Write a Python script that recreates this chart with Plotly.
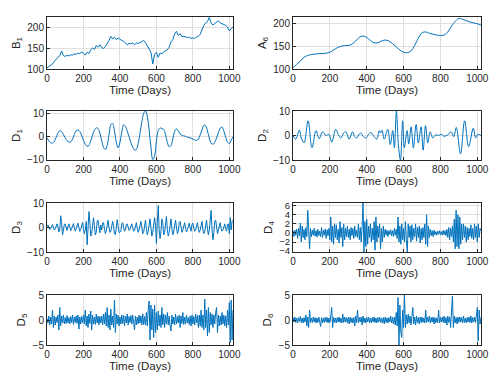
import plotly.graph_objects as go

# daily decomposition of the series
b1_days = list(range(0, 1021, 10))
b1 = [103, 106, 108, 112, 118, 122, 126, 132, 143, 132,
      130, 133, 131, 134, 133, 136, 135, 138, 136, 141,
      138, 133, 140, 137, 146, 150, 147, 156, 152, 158,
      151, 149, 153, 160, 168, 178, 172, 176, 170, 174,
      170, 168, 166, 163, 158, 161, 160, 162, 158, 162,
      161, 163, 166, 168, 163, 156, 147, 140, 112, 135,
      140, 128, 138, 136, 141, 143, 146, 152, 165, 170,
      184, 190, 180, 184, 177, 178, 176, 175, 176, 173,
      174, 173, 176, 178, 183, 195, 204, 210, 213, 223,
      210, 205, 208, 212, 215, 210, 208, 206, 204, 200,
      191, 196, 200]

a6_days = list(range(0, 1021, 20))
a6 = [103, 110, 118, 126, 130, 132, 133, 134, 134, 135,
      137, 142, 147, 150, 152, 152, 155, 162, 170, 173,
      170, 163, 158, 158, 162, 164, 162, 156, 149, 142,
      137, 136, 140, 152, 168, 180, 182, 179, 177, 175,
      174, 175, 182, 195, 205, 212, 210, 207, 204, 202,
      200, 197]

d1_days = list(range(0, 1021, 10))
d1 = [-0.5, -1.8, -2.7, -2.8, -2.0, -0.3, 1.6, 2.7, 2.3, 1.0,
      -0.5, -1.7, -2.3, -2.2, -1.0, 1.0, 2.6, 3.0, 2.3, 0.6,
      -1.5, -3.3, -4.2, -3.8, -1.8, 0.8, 2.9, 3.9, 3.6, 1.5,
      -1.8, -4.6, -5.6, -3.8, 0.8, 5.3, 5.8, 2.5, -2.3, -4.9,
      -2.5, 2.0, 5.2, 4.6, 2.5, 0.0, -2.6, -4.6, -5.8, -5.6,
      -3.0, 1.5, 6.5, 10.2, 11.3, 9.0, 3.0, -4.5, -10.0, -8.5,
      -2.0, 2.8, 3.9, 3.6, 3.2, 1.0, -2.5, -4.4, -3.9, -1.0,
      2.3, 3.5, 2.6, 1.2, 0.6, 0.4, 0.2, -0.2, -0.4, -0.6,
      -1.0, -1.4, -1.6, -1.0, 0.8, 3.0, 5.0, 4.8, 2.5, -0.5,
      -2.8, -3.3, -2.4, -0.5, 1.8, 3.8, 4.2, 2.5, -0.2, -2.4,
      -3.0, -1.5, 0.0]

d2_days = [0, 15, 34, 45, 60, 82, 103, 125, 142, 160,
           178, 195, 210, 232, 248, 260, 275, 287, 305, 323,
           335, 347, 358, 368, 382, 396, 410, 423, 441, 455,
           468, 476, 483, 495, 514, 528, 541, 550, 561, 572,
           583, 595, 604, 619, 628, 641, 653, 668, 680, 695,
           706, 719, 731, 744, 759, 775, 790, 804, 820, 840,
           858, 872, 886, 909, 931, 953, 978, 991, 1004, 1020]
d2 = [0.0, -1.5, 2.2, -1.0, -3.0, 6.0, -5.0, 2.0, -1.3, 1.5,
      0.0, 0.5, -2.7, 2.5, 0.0, -1.0, 1.0, 1.5, -1.5, 1.5,
      -0.5, -1.0, 0.5, 1.0, -0.5, -1.0, 0.5, 1.2, -0.5, -1.5,
      2.0, 1.0, 2.2, -1.5, 2.5, -3.7, 2.0, -5.0, 10.0, -4.0,
      -10.0, 6.0, -5.0, 2.0, -3.5, 3.5, -5.0, 4.5, -3.0, 3.5,
      -6.0, 4.0, -3.0, 1.5, -1.0, 0.3, 0.0, 0.5, -0.3, 0.3,
      1.5, -0.5, 3.3, -7.5, 6.0, -4.5, 3.0, -1.0, 0.5, 0.0]

days5 = list(range(0, 1021, 5))
d3 = [0.3, 1.0, 0.2, -0.8, -0.5, 0.8, 1.2, 0.1, -1.0, -0.6, 0.6, 1.5, 0.3, -1.8, -1.0, 4.8, 2.0, -3.0, -1.0, 1.2,
      1.5, -0.5, -1.2, 0.4, 1.5, 0.2, -1.3, -0.4, 1.0, 1.6, -0.2, -1.5, -0.6, 1.2, 1.8, 0.0, -1.6, -0.8, 1.4, 2.0,
      -0.5, -2.5, -1.0, 2.5, -7.0, 1.0, 6.5, 2.0, -3.5, -2.5, 2.5, 4.0, 0.5, -3.0, -2.0, 2.5, 3.0, -0.5, -2.2, 1.0,
      -1.0, 1.8, 2.0, -0.5, -2.5, -1.5, 2.2, 3.0, 0.0, -2.0, -1.5, 1.5, 2.5, 0.5, -2.5, -3.0, 1.5, 3.2, 0.5, -2.0,
      -2.0, -1.5, 1.5, 2.0, 0.0, -1.5, -1.0, 1.2, 1.5, -0.2, -1.2, -0.8, 1.0, 1.5, 0.0, -1.5, -1.2, 1.5, 2.0, -0.5,
      -2.0, -1.0, 1.8, 2.5, 0.0, -2.5, -2.0, 2.0, 3.0, -0.5, -3.0, -1.5, 2.5, 3.5, 0.0, -3.5, -2.0, 3.0, 4.0, 1.0,
      -6.5, 2.0, 9.0, -1.0, -4.5, -1.5, 3.5, 2.0, -3.0, -2.0, 2.5, 4.5, -1.0, -3.5, -2.0, 2.5, 3.5, -0.5, -3.0, -1.5,
      2.0, 3.0, 0.0, -2.5, -1.5, 2.0, 2.5, -0.5, -2.0, -1.0, 1.5, 2.0, -0.5, -1.8, -0.8, 1.2, 1.8, 0.0, -1.5, 1.2,
      1.8, -0.2, -1.5, -1.0, 1.5, 2.0, -0.5, -2.0, -1.0, 1.5, 2.5, -1.0, -2.5, -1.5, 2.0, 3.0, -0.5, -3.0, -1.0, 2.0,
      7.0, -1.0, -5.0, -2.0, 2.5, 3.0, -1.0, -2.5, -1.0, 1.5, 2.0, -0.5, -1.5, -1.0, 1.0, 1.5, -0.5, -1.5, 1.2, 1.5,
      -2.5, 4.0, -1.0, 2.5, 3.0]

d4 = [0.5, -0.8, 0.6, -0.5, 0.8, -1.2, 1.0, -0.6, 2.2, -2.0, 1.5, -1.0, 0.8, -1.5, 1.2, -0.8, 5.0, -1.5, -3.5, 1.0,
      -0.8, 0.6, -0.5, 1.0, -0.7, 0.5, -0.9, 0.8, -0.6, 0.4, -0.8, 1.2, -1.0, 0.6, -0.5, 0.9, -1.2, 0.7, -0.6, 1.0,
      -1.5, 3.5, -2.0, 1.5, -2.5, 2.0, -1.0, 1.8, -1.5, 0.8, -2.2, 2.5, -1.0, 1.2, -3.0, 2.0, -1.5, 1.0, -0.8, 1.5,
      -1.0, 0.8, -1.5, 1.2, -0.6, 1.0, -1.2, 1.5, -0.8, 0.6, -1.0, 2.0, -1.5, 1.2, -2.0, 1.5, 7.0, -4.2, 2.5, -3.0,
      3.0, -2.5, 1.5, -1.0, 2.0, -2.0, 1.0, -1.5, 2.5, -3.8, 3.5, -2.0, 1.5, -1.0, 2.0, -3.5, 1.0, -2.0, 1.5, -1.0,
      0.8, -0.5, 0.6, -0.8, 0.5, -0.4, 0.7, -0.6, 0.5, -0.8, 1.0, -0.5, 0.8, -1.2, 3.5, -2.0, 1.5, -2.5, 2.0, -1.5,
      1.0, -2.0, 2.5, -1.5, -4.2, 2.0, -1.0, 1.5, -2.0, 1.8, -1.5, 1.0, -0.8, 2.0, -1.8, 1.2, -1.0, 1.5, -2.2, 1.0,
      -1.5, 1.2, -1.0, 2.0, -2.5, 4.0, -3.0, 1.5, -1.0, 0.8, -0.6, 0.5, -0.8, 0.6, -0.4, 0.3, -0.5, 0.4, -0.3, 0.5,
      -0.4, 0.3, -0.5, 0.6, -0.4, 0.5, -0.6, 0.8, -1.0, 1.2, -1.5, 1.0, -0.8, 1.5, -2.0, 3.0, -3.5, 5.0, -3.0, 4.0,
      -3.5, 3.5, -2.5, 2.0, -1.5, 2.0, -1.0, 1.5, -2.0, 1.2, -1.5, 1.0, -0.8, 1.8, -1.2, 1.0, -1.5, 2.0, -1.0, 1.5,
      -2.0, 2.0, -1.0, 1.0, 0.5]

d5 = [0.3, -0.6, 0.8, -1.0, 0.6, -0.8, 2.0, -1.5, 0.8, -1.0, 0.6, -0.5, 1.0, -2.0, 2.5, -1.2, 0.8, -0.6, 1.0, -0.8,
      0.5, -0.7, 0.9, -0.6, 0.5, -0.8, 0.7, -0.5, 1.0, -0.9, 0.6, -0.5, 0.8, -0.7, 1.0, -1.8, 0.6, -0.8, 0.7, -0.5,
      1.0, -0.8, 2.0, -1.2, 0.8, -1.5, 1.2, -0.7, 1.8, -2.0, 1.0, -0.8, 0.6, -0.9, 1.2, -0.6, 0.8, -1.0, 0.7, -0.6,
      0.8, -1.0, 1.2, -0.8, 1.5, -1.2, 2.5, -1.5, 1.0, -2.0, 2.2, -1.0, 0.8, -1.5, 4.0, -2.5, 1.2, -0.8, 1.0, -1.2,
      0.6, -0.8, 1.0, -0.7, 0.9, -1.2, 0.8, -0.6, 1.2, -1.0, 0.7, -0.5, 0.9, -0.8, 1.0, -0.6, -2.0, 0.8, -1.0, 0.6,
      -0.8, 1.0, -0.6, 0.8, -1.0, 1.2, -0.9, 0.7, -1.0, 1.5, -1.2, 2.0, 3.8, -4.0, 3.0, -2.0, 2.2, -3.5, 3.0, -2.5,
      1.5, -2.0, 1.8, -1.2, 1.0, -1.5, 2.5, -1.0, 1.2, -1.5, 1.0, -0.8, 1.5, -1.0, 0.8, -1.2, -2.2, 1.0, -0.8, 0.6,
      -1.0, 1.2, -0.8, 0.7, -0.6, 1.0, -1.5, 0.8, -0.7, 1.5, -0.9, 0.6, -0.8, 1.0, -0.6, 0.5, -0.9, 0.8, -1.2, 1.0,
      -0.8, 0.7, -1.0, 1.2, -0.6, 0.9, -1.5, 1.0, -1.2, 2.0, -1.5, 1.0, -2.0, 4.2, -1.5, 2.0, -3.2, 2.5, -2.5, 1.5,
      -1.0, 1.2, -1.5, 1.0, -0.8, 1.5, 2.5, -2.5, 1.0, -1.2, 0.8, -1.0, 1.5, -0.8, 1.0, -1.2, 0.8, -1.5, 2.0, -1.0,
      3.5, -4.5, 4.0, -4.0, 2.0]

d6 = [0.5, -0.4, 0.6, -0.5, 0.4, -0.6, 0.5, -0.3, 0.7, -0.5, 0.4, -0.6, 0.5, -0.4, 1.0, -1.2, 0.6, -1.5, 2.0, -0.5,
      0.4, -0.5, 0.6, -0.4, 0.5, -0.6, 0.4, -0.5, 0.6, -0.4, -1.3, 0.5, -0.6, 0.4, -0.5, 0.6, -0.4, 0.5, -0.6, 0.4,
      -0.5, 0.8, 2.5, -1.5, 0.6, -0.5, 0.4, -0.6, 0.5, -0.4, 0.6, -0.5, 0.4, -0.6, 1.2, -0.5, 0.6, -0.4, 0.5, -0.6,
      0.5, -0.8, 0.6, -0.5, 0.4, -0.6, 0.5, -1.2, 0.8, -0.5, 2.0, -0.6, 0.5, -0.4, 0.6, -1.0, 0.8, -0.5, 0.4, -0.6,
      0.5, -0.4, 0.6, -0.5, 0.4, -0.6, 0.5, -0.4, 0.6, -0.5, 0.4, -0.6, 0.5, -0.4, 0.6, -0.5, 0.4, -0.6, 0.5, -0.8,
      0.6, -0.5, 0.4, -0.6, 0.5, -0.4, 0.8, -0.6, 0.5, -0.8, 0.6, -1.0, 1.5, -1.2, 4.5, -5.0, 3.0, -2.5, -3.5, 2.0,
      -1.5, 5.0, -1.5, 1.0, -0.8, 1.2, -0.6, 0.8, -1.0, 0.7, 2.5, -0.8, 0.6, -1.0, 0.8, -0.6, 0.5, -0.8, 0.6, -0.5,
      0.6, -0.5, 0.4, -0.6, 2.0, -0.5, 0.6, -0.4, 0.8, -0.6, 0.5, -0.4, 0.6, -0.8, 0.5, -0.6, 0.4, -0.5, 2.0, -0.6,
      0.5, -0.4, 0.6, -0.5, 0.8, -0.6, 0.5, -1.0, 0.8, -0.5, 0.6, -1.5, 1.0, 4.8, -1.5, 0.8, -0.6, 0.5, -0.8, 0.6,
      -0.5, 0.6, -0.4, 0.5, -0.6, 0.8, -0.5, 0.4, -0.6, 0.5, -0.4, 0.6, -0.5, 0.8, -0.6, 0.5, -0.4, 0.6, -0.5, 0.8,
      2.5, -4.2, 2.0, -0.8, 0.5]

# (days, values, y-label, y-range, y-ticks, smooth?)
panels = [
    (b1_days, b1, "B<sub>1</sub>", [100, 224], [100, 150, 200], False),
    (a6_days, a6, "A<sub>6</sub>", [100, 215], [100, 150, 200], True),
    (d1_days, d1, "D<sub>1</sub>", [-10.2, 11.3], [-10, 0, 10], True),
    (d2_days, d2, "D<sub>2</sub>", [-10, 10], [-10, 0, 10], True),
    (days5, d3, "D<sub>3</sub>", [-10, 10], [-10, 0, 10], False),
    (days5, d4, "D<sub>4</sub>", [-4.2, 6.6], [-4, -2, 0, 2, 4, 6], False),
    (days5, d5, "D<sub>5</sub>", [-5, 5], [-5, 0, 5], False),
    (days5, d6, "D<sub>6</sub>", [-5, 5], [-5, 0, 5], False),
]

# the page body has an 8px margin, so the figure is 16px smaller and
# screen positions are shifted by 8px
OFF = 8
W = 502.0 - 2 * OFF
H = 386.0 - 2 * OFF
xdoms = [[(47 - OFF) / W, (233 - OFF) / W], [(293 - OFF) / W, (481 - OFF) / W]]
rows_px = [(17, 69), (111, 160), (203, 252), (295, 345)]

fig = go.Figure()
layout = dict(width=int(W), height=int(H), margin=dict(l=0, r=0, t=0, b=0),
              paper_bgcolor="white", plot_bgcolor="white", showlegend=False,
              font=dict(family="Liberation Sans, Arial, sans-serif", color="#262626"))

for i, (xs, ys, lab, yr, yt, smooth) in enumerate(panels):
    r, c = divmod(i, 2)
    n = i + 1
    xa = "x" if n == 1 else "x%d" % n
    ya = "y" if n == 1 else "y%d" % n
    fig.add_trace(go.Scatter(
        x=xs, y=ys, mode="lines", xaxis=xa, yaxis=ya,
        line=dict(color="#0072BD", width=1, shape="spline" if smooth else "linear"),
        hoverinfo="skip"))
    top, bot = rows_px[r]
    layout["xaxis" if n == 1 else "xaxis%d" % n] = dict(
        domain=xdoms[c], anchor=ya, range=[0, 1020],
        tickvals=[0, 200, 400, 600, 800, 1000], tickfont=dict(size=10),
        showgrid=True, gridcolor="#dfdfdf", gridwidth=1, zeroline=False,
        showline=True, linecolor="#262626", linewidth=1, mirror=True,
        ticks="inside", ticklen=3, tickcolor="#262626",
        title=dict(text="Time (Days)", font=dict(size=11.5), standoff=2),
        automargin=False)
    layout["yaxis" if n == 1 else "yaxis%d" % n] = dict(
        domain=[1 - (bot - OFF) / H, 1 - (top - OFF) / H], anchor=xa, range=yr,
        tickvals=yt, tickfont=dict(size=9.5 if n == 6 else 10),
        showgrid=True, gridcolor="#dfdfdf", gridwidth=1, zeroline=False,
        showline=True, linecolor="#262626", linewidth=1, mirror=True,
        ticks="inside", ticklen=3, tickcolor="#262626",
        title=dict(text=lab, font=dict(size=11.5), standoff=4),
        automargin=False)

fig.update_layout(**layout)
fig.write_html("out.html")
